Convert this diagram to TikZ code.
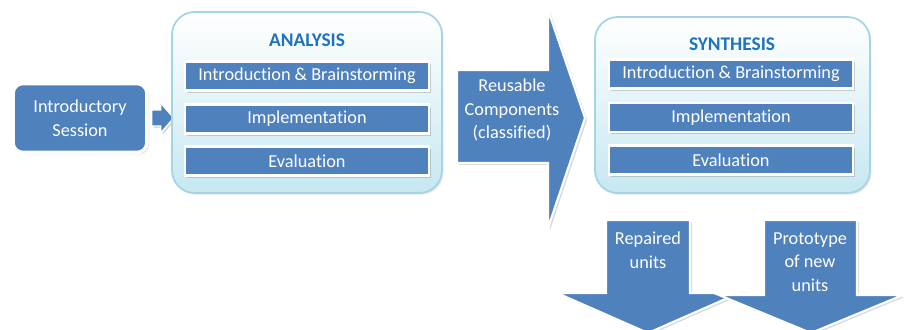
\documentclass[tikz,border=0pt]{standalone}
\usepackage{fontspec}
\setmainfont[Ligatures=NoCommon]{Carlito}
\usetikzlibrary{shadows}
\definecolor{boxblue}{HTML}{4F81BD}
\definecolor{titleblue}{HTML}{1F72BE}
\definecolor{panelrim}{HTML}{A3D5E4}
\definecolor{panelbot}{HTML}{C6E8F1}

\begin{document}
\begin{tikzpicture}[
    x=0.02cm,y=-0.02cm,
    panel/.style={draw=panelrim, line width=1pt, rounded corners=0.45cm,
      top color=white, bottom color=panelbot,
      drop shadow={shadow xshift=0.8pt, shadow yshift=-1pt, opacity=0.2}},
    bar/.style={fill=boxblue, draw=white, line width=1.2pt, text=white,
      minimum width=4.88cm, minimum height=0.58cm, font=\fontsize{10.4}{12}\selectfont,
      drop shadow={shadow xshift=1.2pt, shadow yshift=-1.2pt, opacity=0.35}},
    title/.style={text=titleblue, font=\bfseries\fontsize{11}{12}\selectfont},
    blockarrow/.style={fill=boxblue, draw=white, line width=1.2pt,
      drop shadow={shadow xshift=1.2pt, shadow yshift=-1pt, opacity=0.3}},
    label/.style={text=white, align=center, font=\fontsize{10.4}{13.5}\selectfont}
    ]
    \useasboundingbox (0,0) rectangle (909,329);
    \clip (0,0) rectangle (909,329);

    % first session
    \node[blockarrow, rounded corners=0.2cm, line width=2pt, label,
      minimum width=2.68cm, minimum height=1.38cm] (intro) at (80,118) {Introductory\\Session};
    \draw[blockarrow, line width=0.8pt] (intro.east) ++(3,-8) -- ++(9,0) -- ++(0,-7) -- ++(13,15)
      -- ++(-13,15) -- ++(0,-7) -- ++(-9,0) -- cycle;

    % analysis
    \node[panel, minimum width=5.4cm, minimum height=3.62cm] (ana) at (307,102.5) {};
    \node[title] (anat) at (307,40) {ANALYSIS};
    \node[bar] (a1) at (307,76) {Introduction \& Brainstorming};
    \node[bar] (a2) at (307,119) {Implementation};
    \node[bar] (a3) at (307,161) {Evaluation};

    % components
    \draw[blockarrow] (457,70) -- (548,70) -- (548,10) -- (585,118) -- (548,228)
      -- (548,163) -- (457,163) -- cycle;
    \node[label] (reuse) at (512,110) {Reusable\\Components\\(classified)};

    % synthesis
    \node[panel, minimum width=5.5cm, minimum height=3.52cm] (syn) at (732.5,105) {};
    \node[title] (synt) at (732,44) {SYNTHESIS};
    \node[bar] (s1) at (731,74) {Introduction \& Brainstorming};
    \node[bar] (s2) at (731,117.5) {Implementation};
    \node[bar] (s3) at (731,160) {Evaluation};

    % outputs
    \draw[blockarrow] (606,220) -- (690,220) -- (690,293) -- (739,293) -- (648,333)
      -- (557,293) -- (606,293) -- cycle;
    \node[label] (rep) at (648,250) {Repaired\\units};
    \draw[blockarrow] (764,220) -- (857,220) -- (857,295) -- (903,295) -- (811,333)
      -- (719,295) -- (764,295) -- cycle;
    \node[label] (proto) at (810,262) {Prototype\\of new\\units};
\end{tikzpicture}
\end{document}
